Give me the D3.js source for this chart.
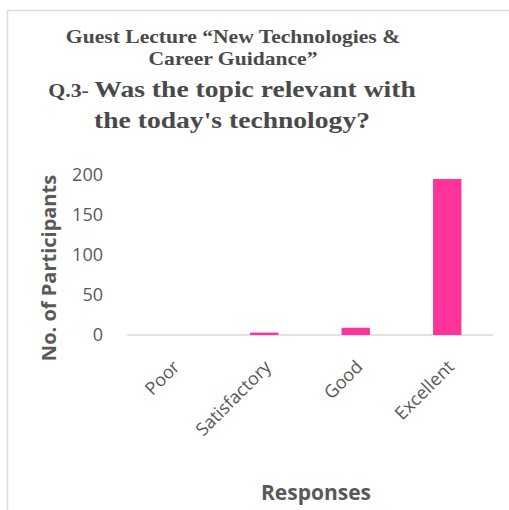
<!DOCTYPE html>
<html><head><meta charset="utf-8">
<script src="https://cdn.jsdelivr.net/npm/d3@7"></script>
<style>body{margin:0;background:#fff}</style>
</head><body>
<script>
const categories = ["Poor", "Satisfactory", "Good", "Excellent"];
const values = [0, 3, 9, 195];
const yTicks = [0, 50, 100, 150, 200];

const W = 509, H = 510;
const svg = d3.select("body").append("svg").attr("width", W).attr("height", H);
svg.append("rect").attr("x", 7.5).attr("y", 10.5).attr("width", W).attr("height", H)
  .attr("fill", "#fff").attr("stroke", "#dcdcdc").attr("stroke-width", 1.5);

const x = d3.scaleBand().domain(categories).range([127, 493]).paddingInner(0.69).paddingOuter(0.345);
const y = d3.scaleLinear().domain([0, 200]).range([335, 175]);

// titles
const tcol = "#4a4a4a";
const tf = "Liberation Serif, Times New Roman, serif";
function title(cx, by, sx) {
  return svg.append("text").attr("transform", `translate(${cx},${by}) scale(${sx},1)`)
    .attr("text-anchor", "middle").attr("font-family", tf).attr("font-weight", "bold").attr("fill", tcol);
}
title(233, 43, 1.2).attr("font-size", 18).text("Guest Lecture \u201cNew Technologies &");
title(233, 65, 1.2).attr("font-size", 18).text("Career Guidance\u201d");
const t3 = title(232, 97, 1.15);
t3.append("tspan").attr("font-family", tf).attr("font-size", 19).text("Q.3- ");
t3.append("tspan").attr("font-family", tf).attr("font-size", 24).text("Was the topic relevant with");
title(232, 128, 1.15).attr("font-size", 24).text("the today's technology?");

const sf = "Open Sans, Liberation Sans, sans-serif";
// y axis
const yAxis = svg.append("g").attr("transform", "translate(103,0)")
  .call(d3.axisLeft(y).tickValues(yTicks).tickSize(0).tickPadding(0));
yAxis.select(".domain").remove();
yAxis.selectAll("text").attr("font-family", sf).attr("font-size", 18).attr("fill", "#595959");

// baseline
svg.append("line").attr("x1", 127).attr("x2", 493).attr("y1", y(0)).attr("y2", y(0))
  .attr("stroke", "#d9d9d9").attr("stroke-width", 1.5);

// bars
svg.selectAll("rect.bar").data(categories).enter().append("rect").attr("class", "bar")
  .attr("x", d => x(d)).attr("width", x.bandwidth())
  .attr("y", (d, i) => y(values[i])).attr("height", (d, i) => y(0) - y(values[i]))
  .attr("fill", "#ff3399");

// x labels
const xAxis = svg.append("g").attr("transform", `translate(0,${y(0)})`)
  .call(d3.axisBottom(x).tickSize(0).tickPadding(0));
xAxis.select(".domain").remove();
xAxis.selectAll("text").attr("font-family", sf).attr("font-size", 18).attr("fill", "#595959")
  .attr("text-anchor", "end").attr("dy", 0).attr("y", 0)
  .attr("transform", "translate(8,33) rotate(-45)");

// axis titles
svg.append("text").attr("transform", "translate(56,268) rotate(-90)").attr("text-anchor", "middle")
  .attr("font-family", sf).attr("font-weight", "bold").attr("font-size", 20).attr("fill", "#595959")
  .text("No. of Participants");
svg.append("text").attr("x", 316).attr("y", 500).attr("text-anchor", "middle")
  .attr("font-family", sf).attr("font-weight", "bold").attr("font-size", 21).attr("fill", "#595959")
  .text("Responses");
</script>
</body></html>
